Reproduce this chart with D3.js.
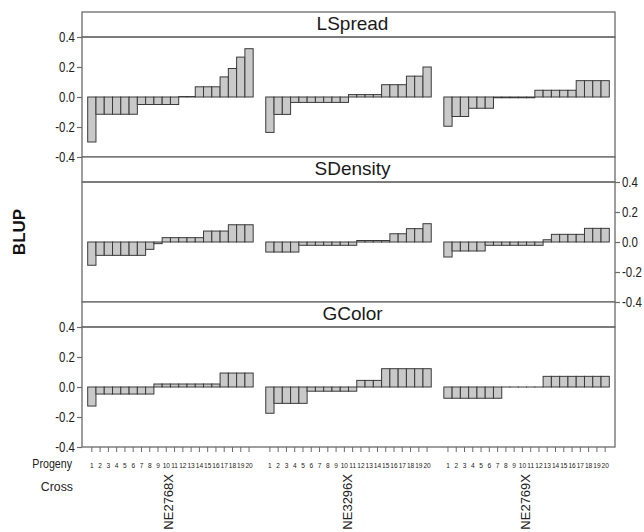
<!DOCTYPE html>
<html>
<head>
<meta charset="utf-8">
<script src="https://cdn.jsdelivr.net/npm/d3@7"></script>
<style>
  body { margin: 0; background: #fff; }
</style>
</head>
<body>
<div id="chart"></div>
<script>
// BLUP values per trait, one array per cross (progeny 1..20)
const traits = ["LSpread", "SDensity", "GColor"];
const crosses = ["NE2768X", "NE3296X", "NE2769X"];
const progeny = ["1","2","3","4","5","6","7","8","9","10","11","12","13","14","15","16","17","18","19","20"];
const yTicks = [-0.4, -0.2, 0.0, 0.2, 0.4];

const lspread = [
  [-0.30, -0.115, -0.115, -0.115, -0.115, -0.115, -0.05, -0.05, -0.05, -0.05, -0.05, 0.003, 0.003, 0.068, 0.068, 0.068, 0.134, 0.19, 0.266, 0.322],
  [-0.236, -0.116, -0.116, -0.036, -0.036, -0.036, -0.036, -0.036, -0.036, -0.036, 0.016, 0.016, 0.016, 0.016, 0.082, 0.082, 0.082, 0.139, 0.139, 0.20],
  [-0.195, -0.13, -0.13, -0.075, -0.075, -0.075, -0.005, -0.005, -0.005, -0.005, -0.005, 0.045, 0.045, 0.045, 0.045, 0.045, 0.109, 0.109, 0.109, 0.109]
];
const sdensity = [
  [-0.155, -0.089, -0.089, -0.089, -0.089, -0.089, -0.089, -0.049, -0.011, 0.029, 0.029, 0.029, 0.029, 0.029, 0.073, 0.073, 0.073, 0.115, 0.115, 0.115],
  [-0.067, -0.067, -0.067, -0.067, -0.022, -0.022, -0.022, -0.022, -0.022, -0.022, -0.022, 0.01, 0.01, 0.01, 0.01, 0.055, 0.055, 0.089, 0.089, 0.122],
  [-0.10, -0.06, -0.06, -0.06, -0.06, -0.022, -0.022, -0.022, -0.022, -0.022, -0.022, -0.022, 0.015, 0.051, 0.051, 0.051, 0.051, 0.091, 0.091, 0.091]
];
const gcolor = [
  [-0.127, -0.047, -0.047, -0.047, -0.047, -0.047, -0.047, -0.047, 0.02, 0.02, 0.02, 0.02, 0.02, 0.02, 0.02, 0.02, 0.093, 0.093, 0.093, 0.093],
  [-0.175, -0.109, -0.109, -0.109, -0.109, -0.028, -0.028, -0.028, -0.028, -0.028, -0.028, 0.044, 0.044, 0.044, 0.122, 0.122, 0.122, 0.122, 0.122, 0.122],
  [-0.075, -0.075, -0.075, -0.075, -0.075, -0.075, -0.075, 0, 0, 0, 0, 0, 0.071, 0.071, 0.071, 0.071, 0.071, 0.071, 0.071, 0.071]
];
const traitValues = [lspread, sdensity, gcolor];

const width = 644, height = 532;
const frameLeft = 82, frameRight = 615, frameTop = 12;
const stripH = 25, plotH = 120, panelH = stripH + plotH;
const frameColor = "#6a6a6a";
const squeeze = 0.82;   // fake a narrow face, none is installed

const svg = d3.select("#chart").append("svg")
    .attr("width", width)
    .attr("height", height)
    .style("font-family", "'Liberation Sans', Arial, sans-serif");

const xOuter = d3.scaleBand()
    .domain(crosses)
    .range([frameLeft, frameRight])
    .paddingInner(0.0707)
    .paddingOuter(0.032);

const xInner = d3.scaleBand()
    .domain(progeny)
    .range([0, xOuter.bandwidth()])
    .padding(0);

// squeeze axis texts horizontally around their own x
function narrowTicks(sel) {
    sel.each(function() {
        const t = d3.select(this);
        const x = +t.attr("x") || 0;
        t.attr("x", x / squeeze).attr("transform", `scale(${squeeze},1)`);
    });
}

traits.forEach((trait, ti) => {
    const pTop = frameTop + ti * panelH;
    const plotTop = pTop + stripH;

    const y = d3.scaleLinear()
        .domain([-0.4, 0.4])
        .range([plotTop + plotH, plotTop]);

    // strip
    svg.append("rect")
        .attr("x", frameLeft).attr("y", pTop)
        .attr("width", frameRight - frameLeft).attr("height", stripH)
        .attr("fill", "#fff")
        .attr("stroke", frameColor).attr("stroke-width", 1.3);

    svg.append("text")
        .attr("x", (frameLeft + frameRight) / 2 + 4)
        .attr("y", pTop + 18)
        .attr("text-anchor", "middle")
        .style("font-size", "19px")
        .style("fill", "#1a1a1a")
        .text(trait);

    // plot frame
    svg.append("rect")
        .attr("x", frameLeft).attr("y", plotTop)
        .attr("width", frameRight - frameLeft).attr("height", plotH)
        .attr("fill", "none")
        .attr("stroke", frameColor).attr("stroke-width", 1.3);

    // bars
    crosses.forEach((cross, ci) => {
        const vals = traitValues[ti][ci];
        svg.append("g")
            .selectAll("rect")
            .data(vals)
            .join("rect")
            .attr("x", (d, i) => xOuter(cross) + xInner(progeny[i]))
            .attr("y", d => y(Math.max(0, d)))
            .attr("width", xInner.bandwidth())
            .attr("height", d => Math.max(0.01, Math.abs(y(d) - y(0))))
            .attr("fill", "#c9c9c9")
            .attr("stroke", "#3a3a3a")
            .attr("stroke-width", 1);
    });

    // y axis: left for LSpread and GColor, right for SDensity
    const axis = (ti === 1 ? d3.axisRight(y) : d3.axisLeft(y))
        .tickValues(yTicks)
        .tickSize(5)
        .tickPadding(2)
        .tickFormat(d => d.toFixed(1));

    const ag = svg.append("g")
        .attr("transform", `translate(${ti === 1 ? frameRight : frameLeft},0)`)
        .call(axis);
    ag.select(".domain").remove();
    ag.selectAll("line").attr("stroke", frameColor).attr("stroke-width", 1.2);
    ag.selectAll("text")
        .style("font-size", "14px")
        .style("fill", "#222")
        .call(narrowTicks);
});

// progeny ticks along the bottom
const bottom = frameTop + 3 * panelH;
crosses.forEach(cross => {
    const bx = d3.axisBottom(xInner).tickSize(5).tickPadding(10);
    const g = svg.append("g")
        .attr("transform", `translate(${xOuter(cross)},${bottom})`)
        .call(bx);
    g.select(".domain").remove();
    g.selectAll("line").attr("stroke", frameColor);
    g.selectAll("text")
        .style("font-size", "8px")
        .style("fill", "#222")
        .call(narrowTicks);

    svg.append("text")
        .attr("transform", `translate(${xOuter(cross) + xOuter.bandwidth() / 2 + 3},${bottom + 27}) rotate(-90)`)
        .attr("text-anchor", "end")
        .style("font-size", "13px")
        .style("fill", "#222")
        .text(cross);
});

svg.append("text")
    .attr("transform", `translate(72,${bottom + 21}) scale(${squeeze},1)`)
    .attr("text-anchor", "end")
    .style("font-size", "13px")
    .style("fill", "#222")
    .text("Progeny");

svg.append("text")
    .attr("transform", `translate(73,${bottom + 44}) scale(0.95,1)`)
    .attr("text-anchor", "end")
    .style("font-size", "13px")
    .style("fill", "#222")
    .text("Cross");

svg.append("text")
    .attr("transform", "translate(25,232) rotate(-90)")
    .attr("text-anchor", "middle")
    .style("font-size", "17px")
    .style("font-weight", "bold")
    .style("fill", "#111")
    .text("BLUP");
</script>
</body>
</html>
